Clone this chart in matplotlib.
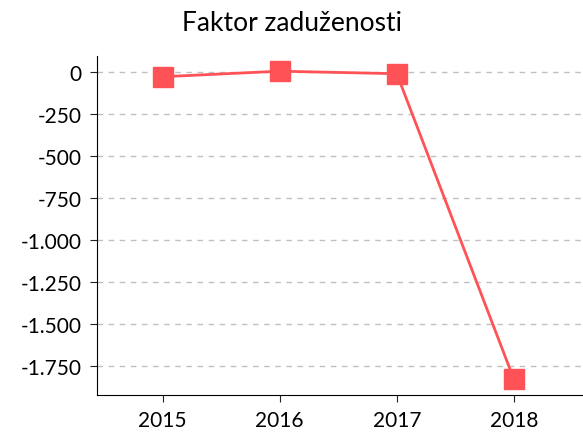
import matplotlib.pyplot as plt
from matplotlib.ticker import FuncFormatter

years = ["2015", "2016", "2017", "2018"]
values = [-28, 5, -10, -1830]
title = "Faktor zaduženosti"
y_ticks = [0, -250, -500, -750, -1000, -1250, -1500, -1750]


def fmt(v, pos):
    # thousands separator is a dot
    return "{:,.0f}".format(v).replace(",", ".")


fig = plt.figure(figsize=(5.83, 4.39), dpi=100)
ax = fig.add_axes([0.1664, 0.098, 0.8336, 0.772])
plt.rcParams["font.family"] = ["Lato", "DejaVu Sans"]

x = list(range(len(years)))
ax.plot(x, values, color="#ff5257", linewidth=2, marker="s", markersize=14, zorder=3)

ax.set_xlim(-0.56, 3.59)
ax.set_ylim(-1923, 95)
ax.set_xticks(x)
ax.set_xticklabels(years, fontsize=15, family="Lato")
ax.set_yticks(y_ticks)
ax.yaxis.set_major_formatter(FuncFormatter(fmt))
for lbl in ax.get_yticklabels():
    lbl.set_fontsize(15)
    lbl.set_family("Lato")

ax.grid(axis="y", linestyle=(0, (4, 4)), color="#c0c0c0", linewidth=1)
ax.set_axisbelow(True)
ax.spines["top"].set_visible(False)
ax.spines["right"].set_visible(False)
ax.tick_params(direction="out", length=5, color="#222222", pad=6)

fig.suptitle(title, fontsize=19, family="Lato", y=0.975)
fig.savefig("out.png", dpi=100)
